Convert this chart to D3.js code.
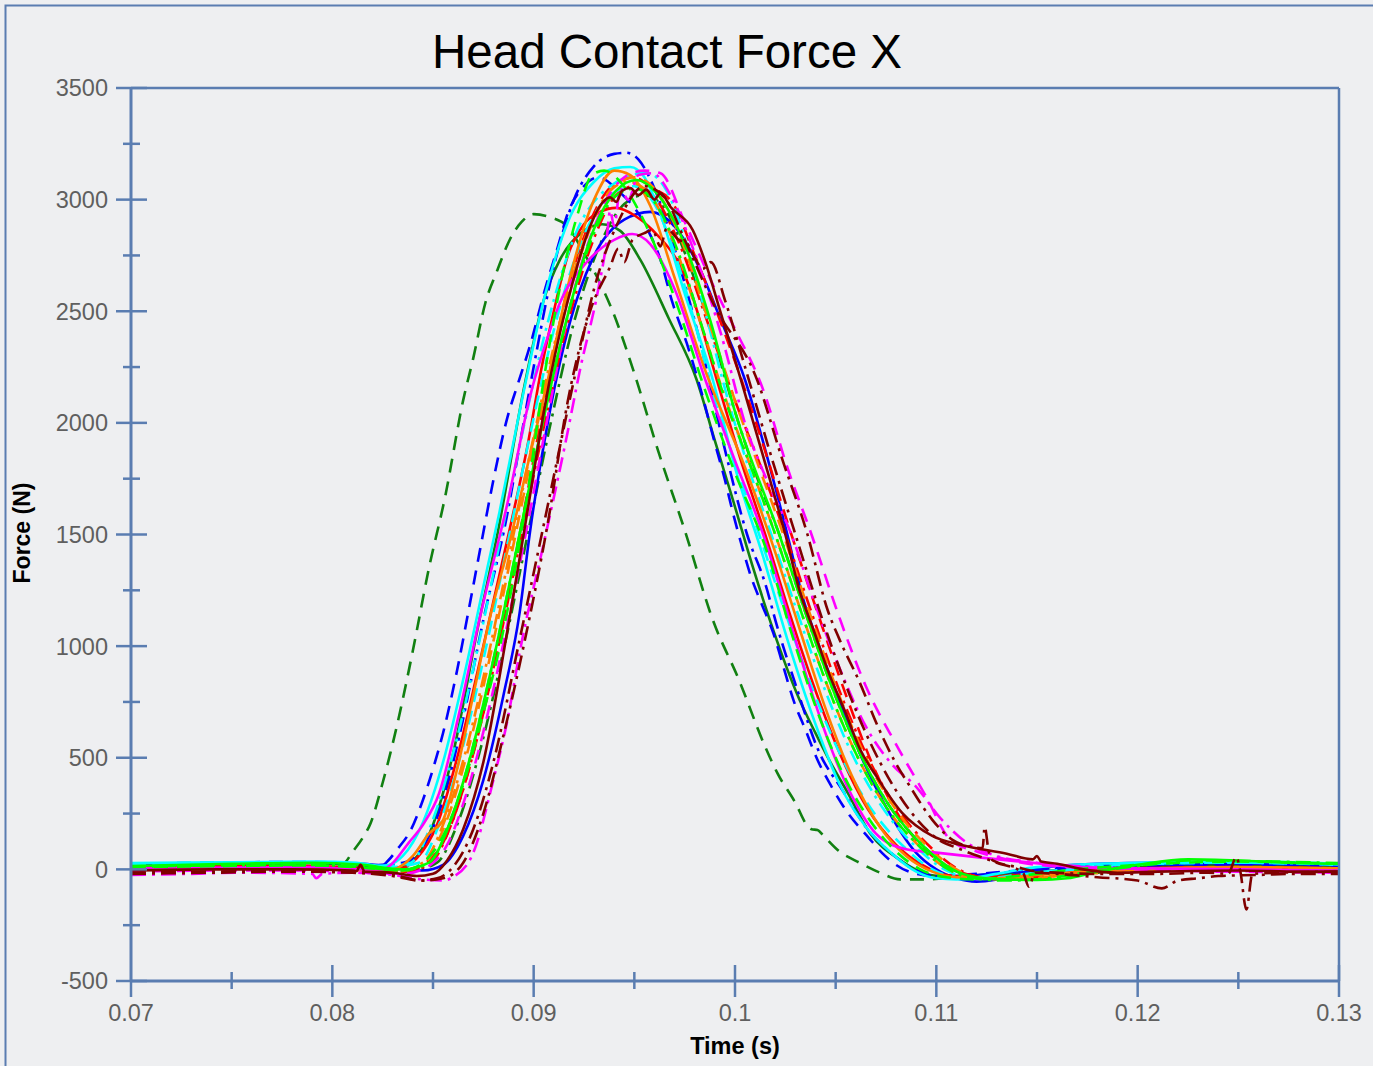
<!DOCTYPE html>
<html><head><meta charset="utf-8">
<script src="https://cdn.jsdelivr.net/npm/d3@7"></script>
<style>body{margin:0;background:#eeeff1;}svg{display:block;}</style>
</head><body>
<script>
// ---------- DATA (time s, force N) ----------
const xTicks = [0.07, 0.08, 0.09, 0.1, 0.11, 0.12, 0.13];
const xMinor = [0.075, 0.085, 0.095, 0.105, 0.115, 0.125];
const yTicks = [-500, 0, 500, 1000, 1500, 2000, 2500, 3000, 3500];
const yMinor = [-250, 250, 750, 1250, 1750, 2250, 2750, 3250];

const dgDash = [[0.070,15],[0.074,22],[0.078,25],[0.0800,20],[0.0806,30],[0.0810,78],[0.0815,140],[0.0819,207],[0.0825,388],[0.0832,640],[0.0840,980],[0.0848,1350],[0.0856,1668],[0.0865,2102],[0.0870,2290],[0.0876,2537],[0.0882,2685],[0.0888,2818],[0.0894,2900],[0.0900,2935],[0.0908,2922],[0.0917,2878],[0.0925,2760],[0.0933,2626],[0.0939,2505],[0.0950,2222],[0.0962,1870],[0.0975,1520],[0.0989,1117],[0.1002,848],[0.1015,549],[0.1021,432],[0.1030,298],[0.1036,195],[0.1038,180],[0.1041,176],[0.1044,150],[0.1051,87],[0.1062,29],[0.1072,-15],[0.1082,-45],[0.1095,-45],[0.1110,-35],[0.1130,-20],[0.115,-10],[0.120,0],[0.125,10],[0.130,10]];
const blueDash = [[0.070,25],[0.074,30],[0.078,33],[0.0805,30],[0.0818,15],[0.0824,12],[0.0828,42],[0.0832,87],[0.0839,177],[0.0845,311],[0.0850,450],[0.0855,611],[0.0862,893],[0.0868,1175],[0.0874,1462],[0.0880,1744],[0.0887,2026],[0.0892,2170],[0.0898,2340],[0.0906,2609],[0.0912,2788],[0.0917,2940],[0.0925,3060],[0.0932,3100],[0.0942,3040],[0.0956,2877],[0.0963,2730],[0.0969,2537],[0.0976,2358],[0.0983,2148],[0.0990,1909],[0.0995,1744],[0.0999,1596],[0.1003,1462],[0.1008,1310],[0.1013,1194],[0.1019,1059],[0.1024,909],[0.1029,759],[0.1035,625],[0.1041,490],[0.1048,370],[0.1056,253],[0.1066,146],[0.1073,74],[0.1080,20],[0.1090,-20],[0.1100,-30],[0.1120,-20],[0.115,0],[0.120,15],[0.125,20],[0.130,15]];
const blueDashDot = [[0.070,20],[0.075,28],[0.079,30],[0.0815,18],[0.0835,30],[0.0845,100],[0.0855,311],[0.0863,594],[0.0875,1117],[0.0887,1596],[0.0892,1847],[0.0900,2250],[0.0910,2700],[0.0920,3000],[0.0930,3150],[0.0940,3205],[0.0946,3210],[0.0952,3180],[0.0960,3050],[0.0970,2780],[0.0983,2350],[0.0995,1880],[0.1006,1500],[0.1015,1280],[0.1021,1086],[0.1030,830],[0.1042,521],[0.1053,360],[0.1065,190],[0.1078,70],[0.1090,-5],[0.1100,-30],[0.1120,-25],[0.115,0],[0.120,20],[0.125,25],[0.130,18]];
const magentaSolid = [[0.070,5],[0.075,8],[0.079,10],[0.0815,0],[0.0825,0],[0.0829,20],[0.0838,120],[0.0845,200],[0.0853,340],[0.0863,700],[0.0873,1117],[0.0887,1641],[0.0899,2147],[0.0907,2385],[0.0913,2537],[0.0926,2716],[0.0940,2820],[0.0949,2846],[0.0958,2800],[0.0970,2600],[0.0985,2200],[0.1000,1830],[0.1014,1500],[0.1025,1180],[0.1035,880],[0.1047,560],[0.1058,330],[0.1070,160],[0.1085,90],[0.1100,75],[0.1120,55],[0.1148,29],[0.1170,10],[0.120,5],[0.125,0],[0.130,-5]];
const dgSolid = [[0.070,15],[0.075,25],[0.079,28],[0.0815,15],[0.0830,5],[0.0840,40],[0.0850,200],[0.0860,520],[0.0872,1071],[0.0882,1502],[0.0896,2192],[0.0905,2550],[0.0913,2730],[0.0925,2860],[0.0934,2890],[0.0943,2860],[0.0953,2730],[0.0967,2470],[0.0981,2192],[0.0990,1920],[0.0999,1654],[0.1009,1350],[0.1019,1072],[0.1032,761],[0.1040,610],[0.1046,503],[0.1056,343],[0.1067,163],[0.1082,42],[0.1097,-25],[0.1110,-35],[0.1130,-25],[0.115,-10],[0.120,10],[0.125,20],[0.130,12]];
const cyanSolid = [[0.070,28],[0.075,32],[0.079,35],[0.0812,30],[0.0822,15],[0.0828,20],[0.0835,60],[0.0845,210],[0.0855,480],[0.0865,850],[0.0877,1350],[0.0883,1600],[0.0893,2050],[0.0905,2550],[0.0917,2900],[0.0930,3080],[0.0940,3140],[0.0948,3146],[0.0955,3100],[0.0962,2960],[0.0975,2580],[0.0989,2192],[0.1000,1800],[0.1014,1400],[0.1026,1030],[0.1040,650],[0.1052,380],[0.1065,190],[0.1078,70],[0.1090,-10],[0.1100,-40],[0.1110,-45],[0.1130,-20],[0.115,10],[0.120,30],[0.125,35],[0.130,25]];
const orangeSolid = [[0.070,0],[0.075,5],[0.079,5],[0.0815,-5],[0.0830,0],[0.0840,60],[0.0848,160],[0.0855,221],[0.0862,450],[0.0870,780],[0.0878,1117],[0.0889,1500],[0.0898,1850],[0.0907,2192],[0.0918,2650],[0.0930,3000],[0.0940,3130],[0.0948,3110],[0.0958,2970],[0.0970,2650],[0.0985,2240],[0.1005,1800],[0.1020,1420],[0.1032,1080],[0.1045,720],[0.1058,420],[0.1072,190],[0.1085,60],[0.1098,-10],[0.1110,-35],[0.1130,-40],[0.115,-25],[0.120,0],[0.125,10],[0.130,5]];
const limeDash = [[0.070,10],[0.075,15],[0.079,18],[0.0815,8],[0.0835,-5],[0.0845,30],[0.0855,150],[0.0865,380],[0.0875,700],[0.0885,1072],[0.0895,1566],[0.0905,2192],[0.0914,2650],[0.0922,2940],[0.0929,3110],[0.0935,3130],[0.0943,3080],[0.0955,2900],[0.0970,2560],[0.0985,2150],[0.0999,1800],[0.1016,1420],[0.1028,1060],[0.1040,730],[0.1053,440],[0.1067,220],[0.1080,80],[0.1092,0],[0.1105,-35],[0.1120,-45],[0.114,-30],[0.117,0],[0.120,20],[0.125,35],[0.130,25]];
const redSolid = [[0.070,10],[0.075,15],[0.079,15],[0.0815,5],[0.0832,0],[0.0842,50],[0.0852,200],[0.0862,500],[0.0872,880],[0.0880,1200],[0.0888,1520],[0.0897,1900],[0.0904,2250],[0.0910,2500],[0.0917,2750],[0.0925,2890],[0.0933,2945],[0.0941,2963],[0.0950,2930],[0.0959,2864],[0.0976,2640],[0.0991,2192],[0.1003,1830],[0.1015,1500],[0.1027,1150],[0.1040,800],[0.1053,500],[0.1066,270],[0.1080,110],[0.1093,20],[0.1105,-25],[0.1120,-35],[0.114,-25],[0.117,-5],[0.120,5],[0.125,10],[0.130,5]];
const redDash = [[0.070,-5],[0.075,0],[0.079,0],[0.0815,-10],[0.0835,-15],[0.0845,20],[0.0855,120],[0.0865,360],[0.0875,700],[0.0885,1120],[0.0893,1500],[0.0903,1980],[0.0915,2530],[0.0928,2900],[0.0940,3070],[0.0950,3100],[0.0958,3057],[0.0969,2985],[0.0980,2750],[0.0995,2400],[0.1010,2013],[0.1028,1500],[0.1041,1150],[0.1056,759],[0.1071,415],[0.1085,190],[0.1098,60],[0.1110,-5],[0.1125,-35],[0.114,-40],[0.117,-20],[0.120,0],[0.125,5],[0.130,-5]];
const magentaDash = [[0.070,-10],[0.075,-5],[0.079,-5],[0.0815,-15],[0.0835,-20],[0.0847,10],[0.0857,110],[0.0867,350],[0.0877,690],[0.0887,1100],[0.0896,1500],[0.0906,1980],[0.0918,2520],[0.0932,2920],[0.0945,3100],[0.0955,3130],[0.0963,3118],[0.0975,2900],[0.0990,2600],[0.1000,2420],[0.1014,2148],[0.1026,1800],[0.1038,1500],[0.1051,1150],[0.1065,820],[0.1080,560],[0.1095,325],[0.1107,132],[0.1120,80],[0.1132,51],[0.1150,20],[0.120,0],[0.125,-10],[0.130,-15]];
const maroonDashDotB = [[0.070,-20],[0.074,-15],[0.078,-10],[0.0810,-15],[0.0830,-30],[0.0843,-50],[0.0852,-40],[0.0860,11],[0.0870,180],[0.0880,480],[0.0893,1028],[0.0904,1500],[0.0920,2192],[0.0930,2600],[0.0942,2900],[0.0955,3060],[0.0965,3010],[0.0975,2820],[0.0990,2520],[0.1011,2192],[0.1023,1850],[0.1036,1500],[0.1046,1162],[0.1052,1028],[0.1062,836],[0.1071,639],[0.1079,490],[0.1087,370],[0.1098,222],[0.1108,132],[0.1118,100],[0.1123,95],[0.1124,190],[0.1126,80],[0.1128,40],[0.1140,10],[0.1150,-10],[0.118,-20],[0.121,-20],[0.1235,-15],[0.1245,-20],[0.1249,55],[0.1251,-10],[0.1254,-180],[0.1257,-20],[0.127,-15],[0.130,-10]];
const maroonDashDotA = [[0.070,-15],[0.074,-10],[0.078,-8],[0.0810,-12],[0.0830,-25],[0.0845,-50],[0.0855,-40],[0.0865,30],[0.0875,250],[0.0885,600],[0.0895,1000],[0.0907,1550],[0.0917,2100],[0.0928,2500],[0.0938,2700],[0.0942,2780],[0.0945,2720],[0.0949,2819],[0.0955,2850],[0.0959,2864],[0.0963,2790],[0.0966,2870],[0.0972,2820],[0.0976,2806],[0.0980,2740],[0.0984,2690],[0.0988,2720],[0.0995,2550],[0.1005,2250],[0.1018,1850],[0.1030,1500],[0.1043,1130],[0.1057,780],[0.1072,480],[0.1088,250],[0.1100,140],[0.1112,90],[0.1130,30],[0.1143,-15],[0.1146,-78],[0.1149,-15],[0.116,-20],[0.118,-35],[0.120,-50],[0.1212,-85],[0.1220,-50],[0.1230,-40],[0.124,-30],[0.126,-25],[0.128,-20],[0.130,-20]];
const maroonSolid = [[0.070,-5],[0.074,0],[0.078,0],[0.0810,-5],[0.0812,-8],[0.0814,20],[0.0816,-10],[0.0830,-15],[0.0842,-30],[0.0850,-20],[0.0857,40],[0.0865,180],[0.0875,480],[0.0887,1072],[0.0895,1500],[0.0908,2192],[0.0920,2650],[0.0928,2880],[0.0934,2985],[0.0938,3010],[0.0941,2990],[0.0944,3040],[0.0948,3052],[0.0952,3020],[0.0956,3045],[0.0960,3000],[0.0963,3030],[0.0968,2967],[0.0979,2864],[0.0986,2700],[0.0992,2520],[0.1003,2192],[0.1014,1850],[0.1025,1500],[0.1032,1250],[0.1039,1072],[0.1047,870],[0.1055,700],[0.1062,540],[0.1070,420],[0.1083,253],[0.1098,150],[0.1112,110],[0.1135,70],[0.1148,45],[0.1150,60],[0.1152,35],[0.1160,25],[0.1173,0],[0.119,-15],[0.121,-10],[0.125,-5],[0.128,-10],[0.130,-10]];
const magentaDashDot = [[0.070,-25],[0.073,-20],[0.0755,-15],[0.0790,-20],[0.0792,-40],[0.0795,-20],[0.0810,-15],[0.0830,-25],[0.0845,-45],[0.0855,-50],[0.0860,-34],[0.0870,74],[0.0880,401],[0.0887,670],[0.0893,970],[0.0906,1500],[0.0916,1920],[0.0923,2237],[0.0932,2595],[0.0936,2800],[0.0938,2950],[0.0940,2880],[0.0943,3050],[0.0947,3000],[0.0952,3110],[0.0959,3118],[0.0968,3020],[0.0980,2760],[0.0993,2400],[0.1006,1968],[0.1016,1740],[0.1028,1500],[0.1039,1207],[0.1052,900],[0.1065,640],[0.1078,470],[0.1090,370],[0.1102,230],[0.1115,120],[0.1130,60],[0.1150,30],[0.118,10],[0.121,0],[0.124,-10],[0.127,-5],[0.130,-10]];
const blueSolid = [[0.070,22],[0.075,28],[0.079,30],[0.0815,25],[0.0835,5],[0.0845,-5],[0.0855,20],[0.0865,150],[0.0875,400],[0.0885,780],[0.0893,1148],[0.0898,1500],[0.0908,2050],[0.0918,2450],[0.0929,2730],[0.0945,2910],[0.0958,2945],[0.0970,2880],[0.0982,2700],[0.0993,2460],[0.1005,2192],[0.1015,1880],[0.1026,1500],[0.1034,1207],[0.1039,1072],[0.1050,800],[0.1062,520],[0.1075,280],[0.1090,74],[0.1100,0],[0.1110,-40],[0.1120,-55],[0.1130,-45],[0.1145,-10],[0.1160,15],[0.118,25],[0.121,30],[0.125,28],[0.130,20]];
const limeSolid = [[0.070,15],[0.075,25],[0.079,30],[0.0815,20],[0.0835,0],[0.0848,30],[0.0858,200],[0.0869,520],[0.0881,980],[0.0893,1500],[0.0904,1980],[0.0916,2450],[0.0930,2870],[0.0941,3040],[0.0951,3088],[0.0961,3030],[0.0975,2800],[0.0988,2450],[0.1000,2050],[0.1022,1500],[0.1035,1150],[0.1048,820],[0.1062,520],[0.1077,280],[0.1094,100],[0.1108,0],[0.1120,-35],[0.1135,-45],[0.1150,-47],[0.1165,-40],[0.118,-10],[0.120,20],[0.1225,45],[0.125,40],[0.1275,30],[0.130,25]];
const cyanDash = [[0.070,25],[0.075,30],[0.079,32],[0.0815,25],[0.0828,10],[0.0843,30],[0.0853,200],[0.0864,520],[0.0876,980],[0.0888,1500],[0.0899,1980],[0.0911,2450],[0.0925,2840],[0.0938,3020],[0.0950,3060],[0.0960,2980],[0.0970,2760],[0.0980,2450],[0.0990,2100],[0.1000,1820],[0.1012,1500],[0.1025,1150],[0.1038,820],[0.1052,520],[0.1067,280],[0.1084,100],[0.1098,0],[0.1110,-35],[0.1125,-40],[0.114,-25],[0.117,5],[0.120,25],[0.125,30],[0.130,20]];
const cyanDashDot = [[0.070,20],[0.075,25],[0.079,28],[0.0815,20],[0.0826,15],[0.0839,30],[0.0849,200],[0.0860,520],[0.0872,980],[0.0884,1500],[0.0895,1980],[0.0907,2450],[0.0921,2850],[0.0938,3060],[0.0956,3120],[0.0966,3040],[0.0976,2800],[0.0986,2470],[0.0996,2120],[0.1006,1820],[0.1018,1500],[0.1031,1150],[0.1044,820],[0.1058,520],[0.1073,280],[0.1090,100],[0.1104,0],[0.1116,-35],[0.1130,-40],[0.115,-20],[0.118,10],[0.121,25],[0.125,30],[0.130,22]];
const limeDashDot = [[0.070,12],[0.075,18],[0.079,20],[0.0815,10],[0.0835,-5],[0.0848,30],[0.0858,200],[0.0869,520],[0.0881,980],[0.0893,1500],[0.0904,1980],[0.0916,2450],[0.0930,2850],[0.0940,3010],[0.0950,3050],[0.0960,2990],[0.0972,2760],[0.0984,2420],[0.0996,2080],[0.1008,1800],[0.1020,1500],[0.1033,1150],[0.1046,820],[0.1060,520],[0.1075,280],[0.1092,100],[0.1106,0],[0.1118,-40],[0.1135,-50],[0.115,-45],[0.117,-20],[0.120,15],[0.1225,40],[0.125,38],[0.130,28]];
const orangeDash = [[0.070,5],[0.075,10],[0.079,10],[0.0815,0],[0.0833,-10],[0.0846,30],[0.0856,200],[0.0867,520],[0.0879,980],[0.0891,1500],[0.0902,1980],[0.0914,2450],[0.0928,2870],[0.0940,3060],[0.0950,3100],[0.0960,3050],[0.0972,2850],[0.0986,2480],[0.1000,2100],[0.1012,1800],[0.1024,1500],[0.1037,1150],[0.1050,820],[0.1064,520],[0.1079,280],[0.1096,100],[0.1110,0],[0.1122,-40],[0.1140,-45],[0.116,-30],[0.119,-10],[0.122,0],[0.126,5],[0.130,0]];
const orangeDashDot = [[0.070,0],[0.075,5],[0.079,5],[0.0815,-5],[0.0832,-10],[0.0845,30],[0.0855,200],[0.0866,520],[0.0878,980],[0.0890,1500],[0.0901,1980],[0.0913,2450],[0.0927,2860],[0.0938,3040],[0.0947,3080],[0.0957,3030],[0.0969,2820],[0.0982,2470],[0.0996,2090],[0.1008,1800],[0.1020,1500],[0.1033,1150],[0.1046,820],[0.1060,520],[0.1075,280],[0.1092,100],[0.1106,0],[0.1118,-35],[0.1135,-45],[0.116,-30],[0.119,-5],[0.122,5],[0.126,5],[0.130,0]];
const redDashDot = [[0.070,5],[0.075,10],[0.079,12],[0.0815,0],[0.0836,-10],[0.0849,30],[0.0859,200],[0.0870,520],[0.0882,980],[0.0894,1500],[0.0905,1980],[0.0917,2450],[0.0931,2850],[0.0941,3020],[0.0950,3060],[0.0960,3010],[0.0972,2810],[0.0986,2460],[0.1000,2100],[0.1013,1800],[0.1025,1500],[0.1038,1150],[0.1051,820],[0.1065,520],[0.1080,280],[0.1097,100],[0.1111,0],[0.1123,-35],[0.1140,-40],[0.116,-25],[0.119,-5],[0.122,5],[0.126,5],[0.130,0]];
const dgDashDot = [[0.070,10],[0.075,18],[0.079,20],[0.0815,10],[0.0838,-10],[0.0852,30],[0.0862,200],[0.0873,520],[0.0885,980],[0.0897,1500],[0.0908,1980],[0.0920,2450],[0.0934,2820],[0.0945,2980],[0.0955,3020],[0.0965,2960],[0.0976,2740],[0.0988,2420],[0.1000,2050],[0.1010,1780],[0.1022,1500],[0.1035,1150],[0.1048,820],[0.1062,520],[0.1077,280],[0.1094,100],[0.1108,0],[0.1120,-35],[0.1140,-45],[0.116,-35],[0.119,-5],[0.122,20],[0.126,25],[0.130,15]];

// ---------- STYLES (kept apart from data) ----------
const COLORS = {dg:"#118011", blue:"#0000ff", red:"#ff0000", magenta:"#ff00ff", cyan:"#00ffff", orange:"#ff8000", lime:"#00ff00", maroon:"#800000"};
const DASHES = {solid:null, dash:"14,9", dashdot:"15,6,3,6"};
const series = [
  [dgDash,"dg","dash"],[dgSolid,"dg","solid"],[dgDashDot,"dg","dashdot"],
  [blueDash,"blue","dash"],[blueDashDot,"blue","dashdot"],[blueSolid,"blue","solid"],
  [redSolid,"red","solid"],[redDash,"red","dash"],[redDashDot,"red","dashdot"],
  [cyanSolid,"cyan","solid"],[cyanDash,"cyan","dash"],[cyanDashDot,"cyan","dashdot"],
  [orangeSolid,"orange","solid"],[orangeDash,"orange","dash"],[orangeDashDot,"orange","dashdot"],
  [magentaSolid,"magenta","solid"],[magentaDash,"magenta","dash"],[magentaDashDot,"magenta","dashdot"],
  [limeSolid,"lime","solid"],[limeDash,"lime","dash"],[limeDashDot,"lime","dashdot"],
  [maroonSolid,"maroon","solid"],[maroonDashDotA,"maroon","dashdot"],[maroonDashDotB,"maroon","dashdot"]
];

// ---------- DRAW ----------
const W = 1373, H = 1066;
const L = 131, R = 1339, T = 88, B = 981;
const AX = "#5a7db1", TXT = "#5f5f5f", FONT = "'Liberation Sans', Arial, sans-serif";

const svg = d3.select("body").append("svg").attr("width", W).attr("height", H);
svg.append("rect").attr("width", W).attr("height", H).attr("fill", "#eeeff1");
svg.append("rect").attr("x", 5.5).attr("y", 5.5).attr("width", W + 20).attr("height", H + 20)
  .attr("fill", "none").attr("stroke", AX).attr("stroke-width", 2);

const x = d3.scaleLinear().domain([0.07, 0.13]).range([L, R]);
const y = d3.scaleLinear().domain([-500, 3500]).range([B, T]);

svg.append("defs").append("clipPath").attr("id", "clip")
  .append("rect").attr("x", L).attr("y", T).attr("width", R - L).attr("height", B - T);

const line = d3.line().x(d => x(d[0])).y(d => y(d[1])).curve(d3.curveMonotoneX);
const g = svg.append("g").attr("clip-path", "url(#clip)");
series.forEach(([data, c, s]) => {
  g.append("path").attr("d", line(data)).attr("fill", "none")
    .attr("stroke", COLORS[c]).attr("stroke-width", 2.6)
    .attr("stroke-dasharray", DASHES[s]).attr("stroke-linejoin", "round");
});

// frame: top + right
svg.append("line").attr("x1", L).attr("x2", R).attr("y1", T).attr("y2", T).attr("stroke", AX).attr("stroke-width", 2.5);
svg.append("line").attr("x1", R).attr("x2", R).attr("y1", T).attr("y2", B).attr("stroke", AX).attr("stroke-width", 2.5);
// axes
svg.append("line").attr("x1", L).attr("x2", L).attr("y1", T).attr("y2", B).attr("stroke", AX).attr("stroke-width", 3);
svg.append("line").attr("x1", L).attr("x2", R).attr("y1", B).attr("y2", B).attr("stroke", AX).attr("stroke-width", 3);

// y ticks
svg.selectAll(".ytm").data(yTicks).enter().append("line")
  .attr("x1", L - 15).attr("x2", L + 16).attr("y1", d => y(d)).attr("y2", d => y(d))
  .attr("stroke", AX).attr("stroke-width", 2.5);
svg.selectAll(".ytn").data(yMinor).enter().append("line")
  .attr("x1", L - 8).attr("x2", L + 9).attr("y1", d => y(d)).attr("y2", d => y(d))
  .attr("stroke", AX).attr("stroke-width", 2.5);
svg.selectAll(".ytl").data(yTicks).enter().append("text")
  .attr("x", 108).attr("y", d => y(d)).attr("dy", "0.36em").attr("text-anchor", "end")
  .attr("font-family", FONT).attr("font-size", 23.5).attr("fill", TXT).text(d => String(d));

// x ticks
svg.selectAll(".xtm").data(xTicks).enter().append("line")
  .attr("x1", d => x(d)).attr("x2", d => x(d))
  .attr("y1", (d, i) => i === 0 ? B : B - 16).attr("y2", B + 16)
  .attr("stroke", AX).attr("stroke-width", 2.5);
svg.selectAll(".xtn").data(xMinor).enter().append("line")
  .attr("x1", d => x(d)).attr("x2", d => x(d)).attr("y1", B - 9).attr("y2", B + 8)
  .attr("stroke", AX).attr("stroke-width", 2.5);
svg.selectAll(".xtl").data(xTicks).enter().append("text")
  .attr("x", d => x(d)).attr("y", 1021).attr("text-anchor", "middle")
  .attr("font-family", FONT).attr("font-size", 23.5).attr("fill", TXT).text(d => String(d));

// titles
svg.append("text").attr("x", 667).attr("y", 68).attr("text-anchor", "middle")
  .attr("font-family", FONT).attr("font-size", 47.5).attr("fill", "#000").text("Head Contact Force X");
svg.append("text").attr("transform", "translate(30,533) rotate(-90)").attr("text-anchor", "middle")
  .attr("font-family", FONT).attr("font-size", 23).attr("font-weight", "bold").attr("fill", "#000").text("Force (N)");
svg.append("text").attr("x", 735).attr("y", 1054).attr("text-anchor", "middle")
  .attr("font-family", FONT).attr("font-size", 23.5).attr("font-weight", "bold").attr("fill", "#000").text("Time (s)");
</script>
</body></html>
